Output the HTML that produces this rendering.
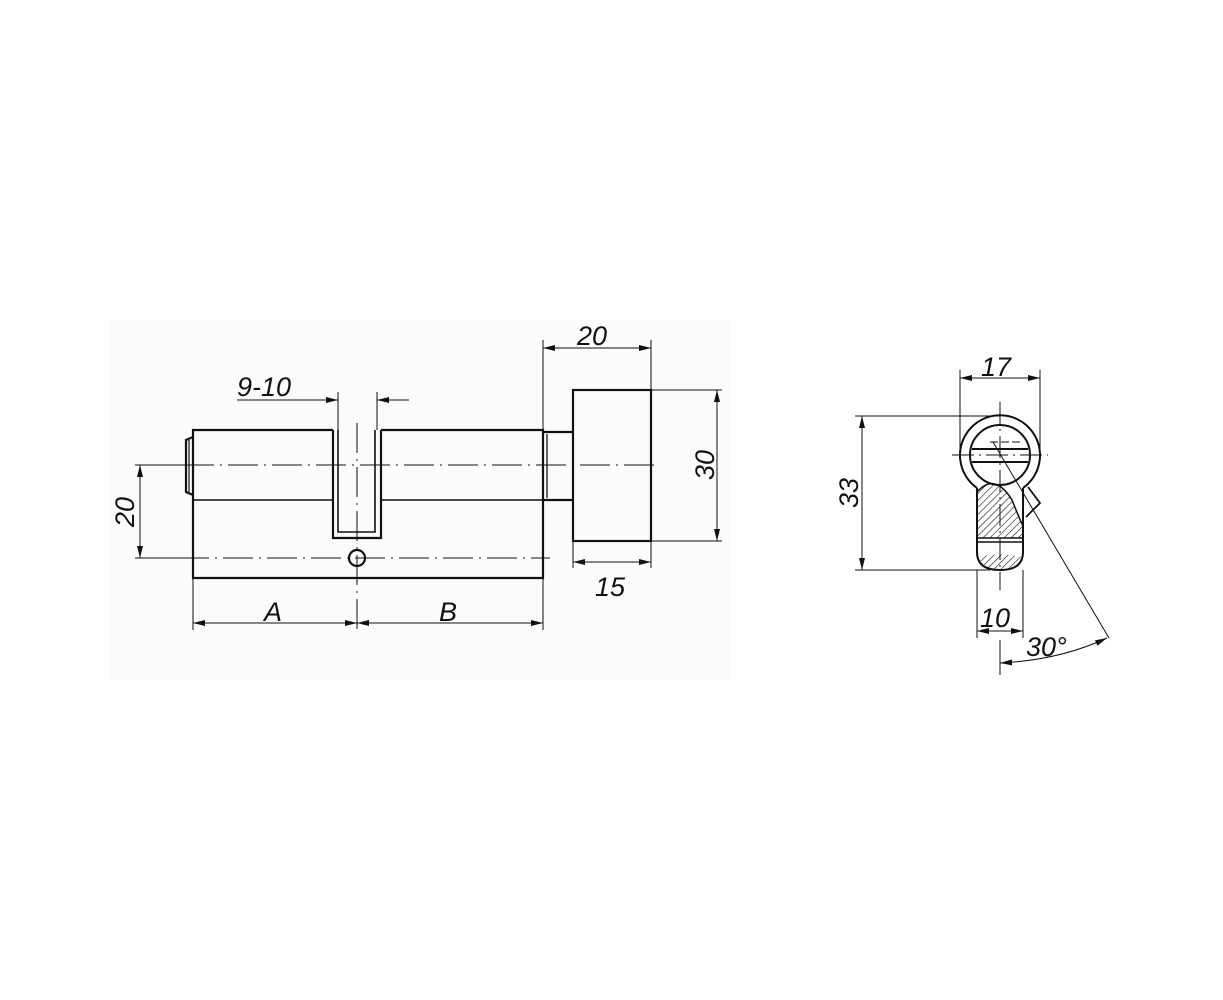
<!DOCTYPE html>
<html><head><style>body{margin:0;background:#fff}svg{display:block}text{font-family:"Liberation Sans",sans-serif;font-style:italic;font-size:27px;fill:#111}</style></head>
<body>
<svg width="1223" height="1000" viewBox="0 0 1223 1000" xmlns="http://www.w3.org/2000/svg">
<defs>
<marker id="a" viewBox="0 0 12 6" refX="12" refY="3" markerWidth="12" markerHeight="6" orient="auto-start-reverse" markerUnits="userSpaceOnUse"><path d="M0,0L12,3L0,6z" fill="#111"/></marker>
<pattern id="h" width="5" height="5" patternUnits="userSpaceOnUse" patternTransform="rotate(45)"><line x1="0" y1="0" x2="0" y2="5" stroke="#111" stroke-width="1.2"/></pattern>
</defs>
<rect x="110" y="320" width="620" height="360" fill="#fcfcfc"/>
<g fill="none" stroke="#111" stroke-width="2.2">
<!-- body -->
<path d="M333 430 H193 V578 H543 V430 H381"/>
<path d="M193 437 L186 440 V492 L193 495"/>
<path d="M189 440 V492" stroke-width="1.2"/>
<path d="M193 500 H333 M381 500 H543" stroke-width="1.5"/>
<path d="M333 430 V538 H381 V430"/>
<path d="M338 430 V532 H375 V430" stroke-width="1.6"/>
<circle cx="357" cy="558" r="8"/>
<!-- neck & knob -->
<path d="M543 432 H573 M543 500 H573" />
<path d="M547 434 V498" stroke-width="1.3"/>
<rect x="573" y="390" width="78" height="151"/>
</g>
<g fill="none" stroke="#111" stroke-width="1">
<path d="M140 465 H660" stroke-dasharray="30,6,2,6"/>
<path d="M135 558 H550" stroke-dasharray="30,6,2,6"/>
<path d="M357 423 V630" stroke-dasharray="30,6,2,6"/>
<path d="M135 465 H190 M135 558 H193"/>
<path d="M140 465 V558" marker-start="url(#a)" marker-end="url(#a)"/>
<path d="M338 392 V430 M377 392 V430"/>
<path d="M237 400 H338" marker-end="url(#a)"/><path d="M409 400 H377" marker-end="url(#a)"/>
<path d="M543 340 V432 M651 340 V390"/>
<path d="M543 348 H651" marker-start="url(#a)" marker-end="url(#a)"/>
<path d="M651 390 H722 M651 541 H722"/>
<path d="M717 390 V541" marker-start="url(#a)" marker-end="url(#a)"/>
<path d="M573 541 V568 M651 541 V568"/>
<path d="M573 562 H651" marker-start="url(#a)" marker-end="url(#a)"/>
<path d="M193 578 V630 M543 578 V630"/>
<path d="M193 623 H357" marker-start="url(#a)" marker-end="url(#a)"/>
<path d="M357 623 H543" marker-start="url(#a)" marker-end="url(#a)"/>
</g>
<text x="237" y="396">9-10</text>
<text x="577" y="345">20</text>
<text x="595" y="596">15</text>
<text x="264" y="621">A</text>
<text x="439" y="621">B</text>
<text transform="translate(134,512) rotate(-90)" text-anchor="middle">20</text>
<text transform="translate(714,465) rotate(-90)" text-anchor="middle">30</text>

<!-- right view -->
<path d="M977 490 Q995 472 1012 500 Q1020 520 1023 526 V538 H977 Z" fill="url(#h)"/>
<path d="M978 557 Q1000 552 1022 557 Q1015 570 1000 570 Q985 570 978 557 Z" fill="url(#h)"/>
<g fill="none" stroke="#111" stroke-width="2">
<path d="M977 488 A40 40 0 1 1 1023 488"/>
<circle cx="1000" cy="455" r="30"/>
<path d="M972 449 H1028 M972 462 H1028"/>
<path d="M977 488 V552 Q977 570 1000 570 Q1023 570 1023 552 V488"/>
<path d="M977 538 H1023 M977 542 H1023" stroke-width="1.5"/>
<path d="M977 492 Q995 472 1012 500 Q1020 520 1023 526" stroke-width="1.5"/>
<path d="M1028 487 L1040 503 L1026 517" stroke-width="1.8"/>
</g>
<g fill="none" stroke="#111" stroke-width="1">
<path d="M1000 402 V590 M952 455 H1048" stroke-dasharray="22,5,2,5"/>
<path d="M990 442 H1020" stroke-dasharray="8,3"/>
<path d="M960 370 V455 M1040 370 V455"/>
<path d="M960 378 H1040" marker-start="url(#a)" marker-end="url(#a)"/>
<path d="M855 416 H1000 M855 570 H990"/>
<path d="M862 416 V570" marker-start="url(#a)" marker-end="url(#a)"/>
<path d="M977 570 V638 M1023 570 V638"/>
<path d="M977 631 H1023" marker-start="url(#a)" marker-end="url(#a)"/>
<path d="M993 442 L1109 638"/>
<path d="M1000 640 V675"/>
<path d="M1000 663 Q1060 660 1107 638" marker-start="url(#a)" marker-end="url(#a)"/>
</g>
<text x="981" y="376">17</text>
<text x="980" y="627">10</text>
<text x="1026" y="656">30°</text>
<text transform="translate(858,493) rotate(-90)" text-anchor="middle">33</text>
</svg>
</body></html>
